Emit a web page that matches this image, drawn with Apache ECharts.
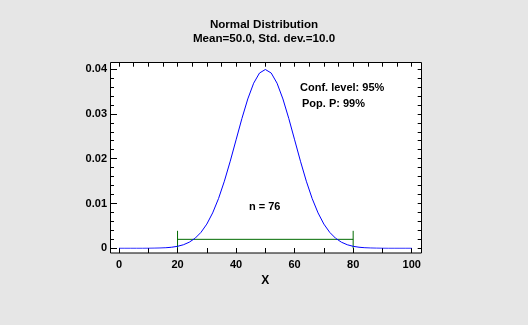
<!DOCTYPE html>
<html><head><meta charset="utf-8">
<script src="https://cdn.jsdelivr.net/npm/echarts@6/dist/echarts.min.js"></script>
<style>html,body{margin:0;padding:0;background:#e6e6e6}#c{width:528px;height:325px}</style>
</head><body><div id="c"></div>
<script>
// Curve values (density) at x = 0,2,...,100
const xValues = [0,2,4,6,8,10,12,14,16,18,20,22,24,26,28,30,32,34,36,38,40,42,44,46,48,50,52,54,56,58,60,62,64,66,68,70,72,74,76,78,80,82,84,86,88,90,92,94,96,98,100];
const density = [0,0,0,0,0,0.00001,0.00003,0.00006,0.00012,0.00024,0.00044,0.00079,0.00136,0.00224,0.00355,0.0054,0.0079,0.01109,0.01497,0.01942,0.0242,0.02897,0.03332,0.03683,0.0391,0.03989,0.0391,0.03683,0.03332,0.02897,0.0242,0.01942,0.01497,0.01109,0.0079,0.0054,0.00355,0.00224,0.00136,0.00079,0.00044,0.00024,0.00012,0.00006,0.00003,0.00001,0,0,0,0,0];
// Tolerance interval
const intervalX = [20, 80];
const intervalY = 0.002;
const whiskerY = [0, 0.0039];
const titleLines = ["Normal Distribution", "Mean=50.0, Std. dev.=10.0"];
const notes = ["Conf. level: 95%", "Pop. P: 99%", "n = 76"];
const xTicks = {min: 0, max: 100, interval: 20};
const yTicks = {min: 0, max: 0.04, interval: 0.01};

const curve = xValues.map((x, i) => [x, density[i]]);
const bar = [[intervalX[0], intervalY], [intervalX[1], intervalY]];
const w1 = [[intervalX[0], whiskerY[0]], [intervalX[0], whiskerY[1]]];
const w2 = [[intervalX[1], whiskerY[0]], [intervalX[1], whiskerY[1]]];

const FONT = 'Liberation Sans, Arial, sans-serif';
const chart = echarts.init(document.getElementById('c'));
const green = '#006a00';
const tickStyle = {color: '#000', width: 1};
const noLine = {show: false, onZero: false};
chart.setOption({
  backgroundColor: '#e6e6e6',
  animation: false,
  title: {
    text: titleLines.join('\n'), left: 'center', top: 13,
    textStyle: {fontFamily: FONT, fontSize: 11.6, fontWeight: 'bold', color: '#000', lineHeight: 14}
  },
  grid: [
    {left: 110.5, right: 106.5, top: 62.5, bottom: 72, show: true, backgroundColor: '#fff', borderColor: '#000', borderWidth: 1},
    {left: 119, right: 116.3, top: 69, bottom: 76.7}
  ],
  graphic: {elements: [
    {type: 'text', left: 300, top: 82, style: {text: notes[0], font: 'bold 11px ' + FONT, fill: '#000'}},
    {type: 'text', left: 302, top: 98, style: {text: notes[1], font: 'bold 11px ' + FONT, fill: '#000'}},
    {type: 'text', left: 249, top: 201, style: {text: notes[2], font: 'bold 11px ' + FONT, fill: '#000'}}
  ]},
  xAxis: [
    {gridIndex: 0, type: 'value', show: false, min: 0, max: 1},
    {gridIndex: 1, type: 'value', position: 'bottom', offset: 4.7, min: xTicks.min, max: xTicks.max, interval: xTicks.interval,
      axisLine: noLine, splitLine: {show: false},
      axisTick: {show: true, inside: true, length: 5, lineStyle: tickStyle},
      minorTick: {show: true, splitNumber: 2, length: 5, lineStyle: tickStyle},
      axisLabel: {margin: 6, fontFamily: FONT, fontSize: 11, fontWeight: 'bold', color: '#000'},
      name: 'X', nameLocation: 'middle', nameGap: 18,
      nameTextStyle: {fontFamily: FONT, fontSize: 12, fontWeight: 'bold', color: '#000'}},
    {gridIndex: 1, type: 'value', position: 'top', offset: 6.3, min: xTicks.min, max: xTicks.max, interval: 5,
      axisLine: noLine, splitLine: {show: false}, axisLabel: {show: false},
      axisTick: {show: true, inside: true, length: 4, lineStyle: tickStyle}}
  ],
  yAxis: [
    {gridIndex: 0, type: 'value', show: false, min: 0, max: 1},
    {gridIndex: 1, type: 'value', position: 'left', offset: 9, min: yTicks.min, max: yTicks.max, interval: yTicks.interval,
      axisLine: noLine, splitLine: {show: false},
      axisTick: {show: true, inside: true, length: 7, lineStyle: tickStyle},
      minorTick: {show: true, splitNumber: 5, length: 4, lineStyle: tickStyle},
      axisLabel: {margin: 3, fontFamily: FONT, fontSize: 11, fontWeight: 'bold', color: '#000',
        formatter: v => v === 0 ? '0' : v.toFixed(2)}},
    {gridIndex: 1, type: 'value', position: 'right', offset: 10, min: yTicks.min, max: yTicks.max, interval: yTicks.interval,
      axisLine: noLine, splitLine: {show: false}, axisLabel: {show: false},
      axisTick: {show: true, inside: true, length: 4, lineStyle: tickStyle},
      minorTick: {show: true, splitNumber: 5, length: 4, lineStyle: tickStyle}}
  ],
  series: [
    {type: 'line', xAxisIndex: 1, yAxisIndex: 1, data: bar, symbol: 'none', lineStyle: {color: green, width: 1}, z: 3},
    {type: 'line', xAxisIndex: 1, yAxisIndex: 1, data: w1, symbol: 'none', lineStyle: {color: green, width: 1}, z: 3},
    {type: 'line', xAxisIndex: 1, yAxisIndex: 1, data: w2, symbol: 'none', lineStyle: {color: green, width: 1}, z: 3},
    {type: 'line', xAxisIndex: 1, yAxisIndex: 1, data: curve, symbol: 'none', lineStyle: {color: '#0000ff', width: 1}, z: 4}
  ]
});
</script></body></html>
